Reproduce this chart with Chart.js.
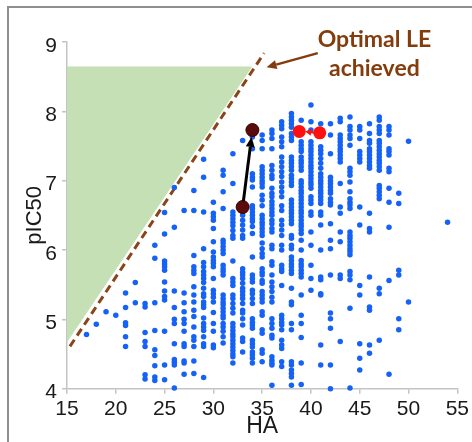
<!DOCTYPE html>
<html>
<head>
<meta charset="utf-8">
<script src="https://cdn.jsdelivr.net/npm/chart.js@4/dist/chart.umd.min.js"></script>
<style>
  html, body { margin: 0; padding: 0; background: #fff; overflow: hidden; }
  #wrap { position: relative; width: 472px; height: 442px; }
  #frame { position: absolute; left: 7px; top: 6px; width: 540px; height: 540px; border: 2px solid #8f8f8f; box-sizing: border-box; }
  canvas { position: absolute; left: 0; top: 0; }
</style>
</head>
<body>
<div id="wrap">
  <div id="frame"></div>
  <canvas id="leChart" width="472" height="442"></canvas>
</div>
<script>
// ---- data ----
const haColumns = [17, 18, 19, 20, 21, 22, 23, 24, 25, 26, 27, 28, 29, 30, 31, 32, 33, 34, 35, 36,
  37, 38, 39, 40, 41, 42, 43, 44, 45, 46, 47, 48, 49, 50, 54];

const pic50Columns = [
  [4.78],
  [4.93],
  [5.11],
  [5.06],
  [5.38, 5.17, 4.95, 4.91, 4.75, 4.61],
  [5.53, 5.24],
  [5.23, 5.18, 4.81, 4.68, 4.61, 4.20, 4.14],
  [6.07, 5.88, 5.24, 4.84, 4.56, 4.48, 4.33, 4.17, 4.12],
  [6.54, 6.23, 5.84, 5.80, 5.76, 5.71, 5.54, 5.41, 5.33, 5.28, 4.83, 4.34, 4.13],
  [6.90, 6.33, 5.41, 5.17, 5.00, 4.94, 4.65, 4.42, 4.38, 4.34, 4.01],
  [6.57, 5.38, 5.24, 5.11, 5.00, 4.94, 4.83, 4.65, 4.61, 4.40, 4.37, 4.21],
  [6.86, 6.57, 5.92, 5.76, 5.71, 5.66, 5.47, 5.35, 5.25, 5.13, 5.04, 4.89, 4.75, 4.70, 4.61, 4.40, 4.22],
  [7.31, 7.05, 6.55, 6.02, 5.82, 5.76, 5.69, 5.64, 5.59, 5.53, 5.45, 5.37, 5.33, 5.25, 5.21, 5.17,
    5.02, 4.94, 4.89, 4.84, 4.75, 4.65, 4.61, 4.16],
  [6.69, 6.53, 6.48, 6.43, 6.31, 6.12, 5.97, 5.90, 5.85, 5.81, 5.76, 5.59, 5.42, 5.37, 5.32, 5.25,
    5.10, 4.94, 4.83, 4.63, 4.59],
  [7.15, 7.08, 6.84, 6.60, 6.14, 6.10, 6.05, 6.00, 5.95, 5.78, 5.73, 5.69, 5.64, 5.35, 5.30, 5.25,
    5.21, 5.16, 5.11, 5.06, 5.02, 4.94, 4.89, 4.83, 4.75, 4.66],
  [7.39, 6.96, 6.55, 6.50, 6.45, 6.40, 6.35, 6.28, 6.21, 6.17, 5.84, 5.59, 5.54, 5.49, 5.35, 5.30,
    5.23, 5.16, 5.09, 4.94, 4.89, 4.84, 4.79, 4.75, 4.70, 4.65, 4.60, 4.55, 4.50, 4.46, 4.37],
  [7.58, 6.50, 6.43, 6.36, 6.29, 6.21, 6.17, 5.73, 5.68, 5.64, 5.59, 5.52, 5.45, 5.40, 5.35, 5.30,
    5.23, 5.13, 5.09, 5.01, 4.92, 4.73, 4.68, 4.53],
  [7.63, 7.46, 7.10, 7.05, 7.01, 6.91, 6.64, 6.60, 6.55, 6.50, 6.45, 6.41, 6.34, 6.24, 5.90, 5.64,
    5.59, 5.54, 5.42, 5.37, 5.30, 5.23, 5.01, 4.96, 4.92, 4.87, 4.70, 4.65, 4.60, 4.53, 4.49, 4.44, 4.37],
  [7.66, 7.58, 7.46, 7.20, 7.15, 7.10, 7.05, 7.00, 6.96, 6.91, 6.79, 6.72, 6.64, 6.50, 6.45, 6.40,
    6.36, 6.31, 6.26, 6.21, 6.10, 6.02, 5.95, 5.90, 5.73, 5.68, 5.64, 5.56, 5.52, 5.40, 5.35, 5.30,
    5.25, 5.11, 5.06, 4.85, 4.80, 4.56, 4.51, 4.39],
  [7.73, 7.68, 7.61, 7.46, 7.22, 7.15, 7.08, 7.03, 6.89, 6.82, 6.77, 6.70, 6.65, 6.60, 6.55, 6.50,
    6.43, 6.38, 6.31, 6.26, 6.07, 6.02, 5.83, 5.78, 5.64, 5.54, 5.47, 5.40, 5.32, 5.25, 5.01, 4.94,
    4.87, 4.77, 4.73, 4.46, 4.41, 4.37, 4.34, 4.05],
  [7.85, 7.80, 7.75, 7.63, 7.56, 7.49, 7.34, 7.27, 7.20, 7.13, 7.06, 6.98, 6.91, 6.84, 6.77, 6.64,
    6.57, 6.43, 6.36, 6.29, 6.21, 6.07, 6.00, 5.78, 5.73, 5.69, 5.49, 5.06, 5.01, 4.96, 4.92, 4.85,
    4.70, 4.63, 4.58, 4.39, 4.32],
  [7.97, 7.92, 7.87, 7.82, 7.77, 7.68, 7.63, 7.58, 7.34, 7.29, 7.25, 7.20, 7.15, 7.08, 7.03, 6.98,
    6.93, 6.72, 6.67, 6.62, 6.57, 6.53, 6.48, 6.43, 6.38, 6.21, 6.17, 6.07, 6.02, 5.90, 5.85, 5.80,
    5.76, 5.71, 5.66, 5.45, 5.25, 5.21, 4.94, 4.85, 4.39, 4.34, 4.27, 4.22, 4.17, 4.05],
  [7.87, 7.56, 7.51, 7.46, 7.42, 7.34, 7.29, 7.25, 7.20, 7.15, 7.00, 6.96, 6.91, 6.86, 6.82, 6.77,
    6.72, 6.67, 6.62, 6.57, 6.53, 6.48, 6.43, 6.38, 6.34, 6.29, 6.24, 6.14, 6.00, 5.85, 5.80, 5.76,
    5.71, 5.66, 5.61, 5.35, 5.06, 4.94, 4.74, 4.37, 4.06],
  [8.09, 7.85, 7.73, 7.56, 7.51, 7.46, 7.42, 7.37, 7.32, 7.27, 7.22, 7.18, 7.13, 7.08, 7.03, 6.98,
    6.94, 6.89, 6.77, 6.72, 6.67, 6.55, 6.50, 6.26, 6.07, 5.78, 5.59, 5.42],
  [7.82, 7.49, 7.44, 7.39, 7.32, 7.25, 7.18, 7.10, 7.05, 7.00, 6.96, 6.91, 6.86, 6.82, 6.77, 6.72,
    6.67, 6.55, 6.50, 6.36, 6.00, 5.61, 5.57, 5.37, 5.35, 4.63, 4.34],
  [7.82, 7.66, 7.39, 7.05, 7.00, 6.96, 6.91, 6.86, 6.82, 6.74, 6.69, 6.65, 6.38, 6.14, 6.02, 5.64,
    5.09, 5.01, 4.87, 4.34, 4.00],
  [7.90, 7.85, 7.66, 7.61, 7.56, 7.51, 7.46, 7.42, 7.37, 7.32, 7.27, 6.96, 6.62, 6.53, 6.26, 6.12,
    5.64, 5.59, 4.68],
  [7.92, 7.78, 7.73, 7.66, 7.61, 7.51, 7.18, 7.13, 7.08, 6.98, 6.84, 6.74, 6.69, 6.65, 6.60, 6.26,
    6.21, 6.17, 6.12, 6.07, 6.02, 5.98, 5.93, 5.69, 5.64, 5.57, 5.16, 4.01],
  [7.78, 7.73, 7.61, 7.42, 7.37, 7.32, 7.27, 6.62, 6.36, 5.49, 5.35, 4.65, 4.44, 4.27],
  [7.82, 7.68, 7.58, 7.54, 7.46, 7.42, 7.37, 7.32, 7.27, 7.22, 7.18, 6.53, 6.31, 6.26, 5.61, 5.18,
    5.13, 4.63, 4.51],
  [7.92, 7.87, 7.78, 7.73, 7.68, 7.58, 7.54, 7.49, 7.44, 7.39, 7.34, 7.29, 7.25, 7.20, 7.15, 6.93,
    6.89, 6.84, 6.79, 6.74, 5.45, 5.37, 4.70],
  [7.78, 7.73, 7.66, 7.46, 7.42, 7.37, 7.18, 7.13, 6.89, 6.69, 6.33, 5.56, 4.21],
  [6.82, 6.67, 5.71, 5.64, 5.01, 4.85],
  [7.57, 5.25],
  [6.40]
];

// starting compound -> optimised lead (dark red)
const leadHA = [33, 34];
const leadPIC50 = [6.62, 7.73];

// compounds that reach optimal LE (red)
const optimalHA = [38.8, 40.9];
const optimalPIC50 = [7.71, 7.69];

// optimal ligand efficiency limit (dashed line)
const limitHA = [15.3, 35.2];
const limitPIC50 = [4.61, 8.84];

// unreachable region (green)
const regionHA = [15, 33.9, 15];
const regionPIC50 = [4.68, 8.64, 8.64];

const xTicks = [15, 20, 25, 30, 35, 40, 45, 50, 55];
const yTicks = [4, 5, 6, 7, 8, 9];

const BROWN = '#843c0c';
const AXIS = '#c4c4c4';
const FONT = 'Liberation Sans';

const toPoints = (xs, ys) => xs.map((x, i) => ({ x, y: ys[i] }));
const bluePoints = haColumns.flatMap((ha, i) => pic50Columns[i].map(v => ({ x: ha, y: v })));

function drawArrow(ctx, x1, y1, x2, y2, color, width, headLen, headW) {
  const ang = Math.atan2(y2 - y1, x2 - x1);
  const bx = x2 - headLen * Math.cos(ang);
  const by = y2 - headLen * Math.sin(ang);
  ctx.save();
  ctx.strokeStyle = color;
  ctx.fillStyle = color;
  ctx.lineWidth = width;
  ctx.beginPath();
  ctx.moveTo(x1, y1);
  ctx.lineTo(bx, by);
  ctx.stroke();
  ctx.beginPath();
  ctx.moveTo(x2, y2);
  ctx.lineTo(bx + headW / 2 * Math.sin(ang), by - headW / 2 * Math.cos(ang));
  ctx.lineTo(bx - headW / 2 * Math.sin(ang), by + headW / 2 * Math.cos(ang));
  ctx.closePath();
  ctx.fill();
  ctx.restore();
}

// arrows + "Optimal LE achieved" callout
const annotations = {
  id: 'annotations',
  afterDatasetsDraw(chart) {
    const { ctx, scales: { x, y } } = chart;

    // lead optimisation arrow (black)
    const lx1 = x.getPixelForValue(leadHA[0]), ly1 = y.getPixelForValue(leadPIC50[0]);
    const lx2 = x.getPixelForValue(leadHA[1]), ly2 = y.getPixelForValue(leadPIC50[1]);
    const a = Math.atan2(ly2 - ly1, lx2 - lx1);
    drawArrow(ctx, lx1 + 6 * Math.cos(a), ly1 + 6 * Math.sin(a),
      lx2 - 7 * Math.cos(a), ly2 - 7 * Math.sin(a), '#000', 3, 10, 9);

    // small red arrow between the two optimal compounds
    const rx1 = x.getPixelForValue(optimalHA[1]), ry1 = y.getPixelForValue(optimalPIC50[1]);
    const rx2 = x.getPixelForValue(optimalHA[0]), ry2 = y.getPixelForValue(optimalPIC50[0]);
    drawArrow(ctx, rx1 - 5, ry1, rx2 + 6, ry2, '#ff1010', 2, 6, 7);

    // callout text
    ctx.save();
    ctx.fillStyle = BROWN;
    ctx.font = 'bold 23px Lato';
    ctx.textAlign = 'center';
    ctx.textBaseline = 'alphabetic';
    const tx = x.getPixelForValue(46.5);
    ctx.fillText('Optimal LE', tx, y.getPixelForValue(8.925));
    ctx.fillText('achieved', tx, y.getPixelForValue(8.51));
    ctx.restore();

    // callout arrow to the dashed line
    drawArrow(ctx, x.getPixelForValue(40.7), y.getPixelForValue(8.84),
      x.getPixelForValue(35.45), y.getPixelForValue(8.635), BROWN, 2.5, 10, 9);
  }
};

new Chart(document.getElementById('leChart'), {
  type: 'scatter',
  data: {
    datasets: [
      {
        label: 'Optimal LE compounds',
        data: toPoints(optimalHA, optimalPIC50),
        backgroundColor: '#ff1010',
        borderColor: '#ff1010',
        pointRadius: 6.5,
        borderWidth: 0,
        order: 1,
        clip: false
      },
      {
        label: 'Lead',
        data: toPoints(leadHA, leadPIC50),
        backgroundColor: '#5a0b0b',
        borderColor: '#3a0000',
        pointRadius: 6.5,
        borderWidth: 1,
        order: 2,
        clip: false
      },
      {
        label: 'Compounds',
        data: bluePoints,
        backgroundColor: '#1562f5',
        borderColor: '#1562f5',
        pointRadius: 2.75,
        borderWidth: 0,
        order: 3,
        clip: false
      },
      {
        label: 'Optimal LE',
        data: toPoints(limitHA, limitPIC50),
        showLine: true,
        borderColor: '#8a4419',
        borderWidth: 3,
        borderDash: [8, 5],
        pointRadius: 0,
        fill: false,
        order: 4,
        clip: false
      },
      {
        label: 'Region',
        data: toPoints(regionHA, regionPIC50),
        showLine: true,
        backgroundColor: '#c5e0b4',
        borderColor: '#c5e0b4',
        borderWidth: 1,
        pointRadius: 0,
        fill: 'shape',
        order: 5,
        clip: false
      }
    ]
  },
  options: {
    responsive: false,
    animation: false,
    events: [],
    layout: { padding: { left: 0, top: 42, right: 14, bottom: 0 } },
    plugins: { legend: { display: false }, tooltip: { enabled: false } },
    scales: {
      x: {
        type: 'linear',
        min: xTicks[0],
        max: xTicks[xTicks.length - 1],
        afterBuildTicks: s => { s.ticks = xTicks.map(v => ({ value: v })); },
        afterFit: s => { s.height = 53.3; },
        border: { display: true, color: AXIS, width: 1.5 },
        grid: { display: true, drawOnChartArea: false, drawTicks: true, tickLength: 5, color: AXIS, lineWidth: 1.5 },
        ticks: { font: { family: FONT, size: 21 }, color: '#1a1a1a', padding: 3, maxRotation: 0 },
        title: { display: true, text: 'HA', font: { family: FONT, size: 23 }, color: '#1a1a1a', padding: { top: 0, bottom: 2 } }
      },
      y: {
        type: 'linear',
        min: yTicks[0],
        max: yTicks[yTicks.length - 1],
        afterBuildTicks: s => { s.ticks = yTicks.map(v => ({ value: v })); },
        afterFit: s => { s.width = 67; },
        border: { display: true, color: AXIS, width: 1.5 },
        grid: { display: true, drawOnChartArea: false, drawTicks: true, tickLength: 5, color: AXIS, lineWidth: 1.5 },
        ticks: { font: { family: FONT, size: 21 }, color: '#1a1a1a', padding: 5, labelOffset: 4 },
        title: { display: true, text: 'pIC50', font: { family: FONT, size: 22 }, color: '#1a1a1a', padding: { top: 22, bottom: 0 } }
      }
    }
  },
  plugins: [annotations]
});
</script>
</body>
</html>
